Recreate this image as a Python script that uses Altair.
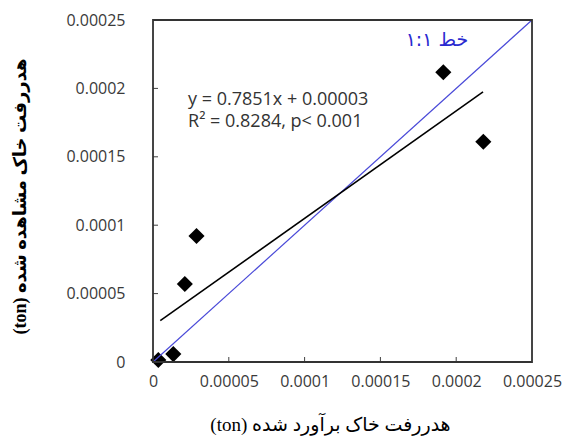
import altair as alt
import pandas as pd

# observed vs estimated soil loss (ton)
est = [0.0000035, 0.0000134, 0.0000210, 0.0000287, 0.0001915, 0.0002179]
obs = [0.0000015, 0.0000058, 0.0000570, 0.0000921, 0.0002118, 0.0001610]

fit_x = [0.0000048, 0.0002177]
fit_y = [0.0000302, 0.0001974]

one_x = [0.0, 0.00025]
one_y = [0.0, 0.00025]

tick_vals = [0.0, 0.00005, 0.0001, 0.00015, 0.0002, 0.00025]
inner_ticks = [0.00005, 0.0001, 0.00015, 0.0002]

eq_line1 = "y = 0.7851x + 0.00003"
eq_line2 = "R² = 0.8284, p< 0.001"
one_label = "خط ۱:۱"
x_title = "(ton) هدررفت خاک برآورد شده"
y_title = "(ton) هدررفت خاک مشاهده شده"

pts = pd.DataFrame({"est": est, "obs": obs})
fit = pd.DataFrame({"est": fit_x, "obs": fit_y})
one = pd.DataFrame({"est": one_x, "obs": one_y})
ticks = pd.DataFrame({"v": inner_ticks})

W, H = 379, 342
xs = alt.Scale(domain=[0, 0.00025], nice=False, zero=False)
ys = alt.Scale(domain=[0, 0.00025], nice=False, zero=False)

lab_font = "Open Sans"
lab_expr = "format(datum.value, '.5~f')"
title_font = "Liberation Serif, DejaVu Sans"

x_axis = alt.Axis(values=tick_vals, labelExpr=lab_expr, grid=False, domain=False, ticks=False,
                  labelOverlap=False, labelFlush=False,
                  labelPadding=11, labelFontSize=16, labelColor="#3a3a3a", labelFont=lab_font,
                  title=x_title, titleFont=title_font, titleFontSize=19,
                  titleFontWeight="normal", titleColor="black",
                  titleX=177, titleY=62, titleAlign="center", titleBaseline="middle")
y_axis = alt.Axis(values=tick_vals, labelExpr=lab_expr, grid=False, domain=False, ticks=False,
                  labelOverlap=False, labelFlush=False,
                  labelPadding=28, labelFontSize=16, labelColor="#3a3a3a", labelFont=lab_font,
                  title=y_title, titleFont=title_font, titleFontSize=18,
                  titleFontWeight="bold", titleColor="black",
                  titleX=-133, titleY=176, titleAlign="center", titleBaseline="middle", titleAngle=-90)

points = alt.Chart(pts).mark_point(shape="diamond", filled=True, color="black", size=260, opacity=1).encode(
    x=alt.X("est:Q", scale=xs, axis=x_axis),
    y=alt.Y("obs:Q", scale=ys, axis=y_axis),
)

one_line = alt.Chart(one).mark_line(color="#4a4ad8", strokeWidth=1.2).encode(
    x=alt.X("est:Q", scale=xs), y=alt.Y("obs:Q", scale=ys))

fit_line = alt.Chart(fit).mark_line(color="black", strokeWidth=1.6).encode(
    x=alt.X("est:Q", scale=xs), y=alt.Y("obs:Q", scale=ys))

yticks = alt.Chart(ticks).mark_rule(color="#404040", strokeWidth=1).encode(
    y=alt.Y("v:Q", scale=ys), x=alt.value(0), x2=alt.value(5))
xticks = alt.Chart(ticks).mark_rule(color="#404040", strokeWidth=1).encode(
    x=alt.X("v:Q", scale=xs), y=alt.value(H), y2=alt.value(H - 5))

frame = alt.Chart(pd.DataFrame({"a": [0]})).mark_rect(
    fillOpacity=0, stroke="#333333", strokeWidth=1.8).encode(
    x=alt.datum(one_x[0], scale=xs), x2=alt.datum(one_x[1]),
    y=alt.datum(one_y[0], scale=ys), y2=alt.datum(one_y[1]))

txt_font = 18
txt1 = alt.Chart(pd.DataFrame({"t": [eq_line1]})).mark_text(
    align="left", baseline="middle", font=lab_font, fontSize=txt_font, color="#333333").encode(
    x=alt.datum(0.0000231, scale=xs), y=alt.datum(0.0001915, scale=ys), text="t:N")
txt2 = alt.Chart(pd.DataFrame({"t": [eq_line2]})).mark_text(
    align="left", baseline="middle", font=lab_font, fontSize=txt_font, color="#333333").encode(
    x=alt.datum(0.0000231, scale=xs), y=alt.datum(0.0001754, scale=ys), text="t:N")
txt3 = alt.Chart(pd.DataFrame({"t": [one_label]})).mark_text(
    align="center", baseline="middle", font="DejaVu Sans", fontSize=19, color="#2a2ad0").encode(
    x=alt.datum(0.0001873, scale=xs), y=alt.datum(0.0002354, scale=ys), text="t:N")

chart = alt.layer(points, one_line, fit_line, yticks, xticks, frame, txt1, txt2, txt3).properties(
    width=W, height=H,
    autosize=alt.AutoSizeParams(type="none"),
    padding={"left": 145, "top": 12, "right": 30, "bottom": 76},
).configure_view(stroke=None).configure(background="white")

chart.save("out.html", embed_options={"renderer": "svg", "actions": False})
